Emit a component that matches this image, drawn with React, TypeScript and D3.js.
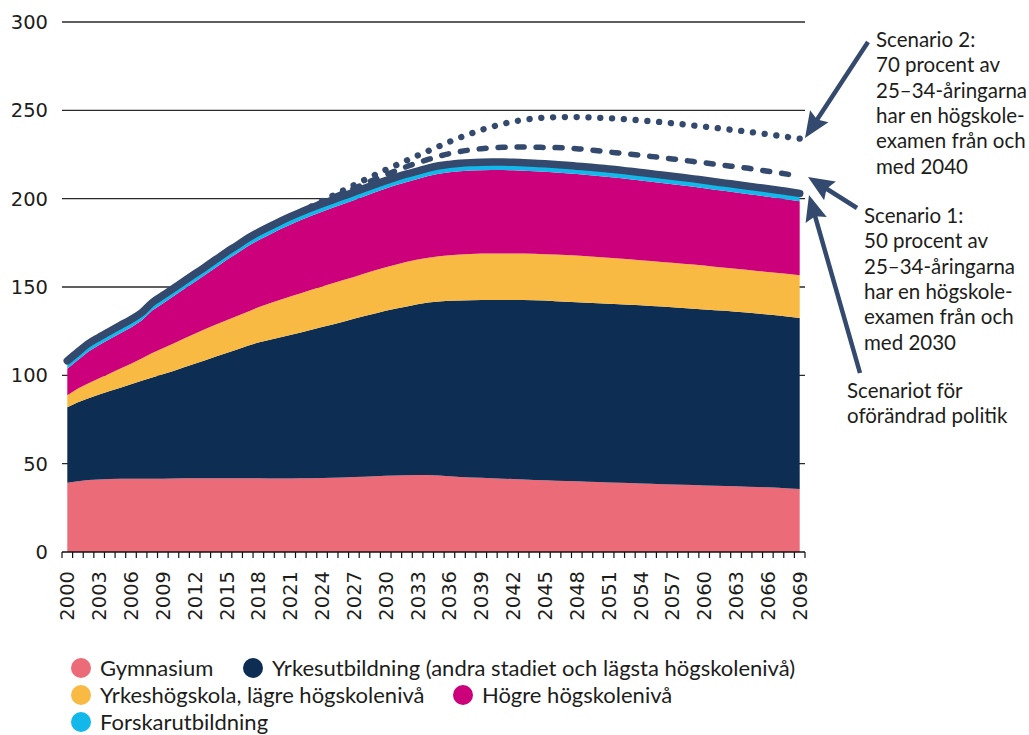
import React from "react";
import * as d3 from "d3";

const years: number[] = d3.range(2000, 2070);
const xTickLabels = ["2000","2003","2006","2009","2012","2015","2018","2021","2024","2027","2030","2033","2036","2039","2042","2045","2048","2051","2054","2057","2060","2063","2066","2069"];
const yTicks = [0, 50, 100, 150, 200, 250, 300];

// Cumulative tops of each stacked band
const gymnasiumTop = [
  39.2, 40.0, 40.7, 41.1, 41.3, 41.4, 41.5, 41.5, 41.5, 41.5,
  41.6, 41.7, 41.7, 41.8, 41.8, 41.8, 41.8, 41.8, 41.7, 41.6,
  41.6, 41.6, 41.7, 41.8, 41.9, 42.0, 42.2, 42.4, 42.6, 42.9,
  43.1, 43.3, 43.5, 43.6, 43.6, 43.3, 42.9, 42.5, 42.2, 42.0,
  41.7, 41.5, 41.3, 41.0, 40.8, 40.6, 40.4, 40.2, 40.0, 39.8,
  39.6, 39.4, 39.2, 39.0, 38.8, 38.6, 38.4, 38.2, 38.1, 37.9,
  37.7, 37.5, 37.4, 37.2, 37.0, 36.8, 36.6, 36.3, 36.0, 35.7,
];
const yrkesutbildningTop = [
  82.0, 84.8, 87.0, 89.2, 91.2, 93.0, 95.0, 97.0, 98.8, 100.6,
  102.4, 104.6, 106.6, 108.6, 110.6, 112.6, 114.6, 116.8, 118.6, 120.0,
  121.4, 122.8, 124.3, 125.8, 127.3, 128.8, 130.3, 132.0, 133.6, 135.0,
  136.5, 137.8, 139.0, 140.2, 141.2, 141.8, 142.2, 142.4, 142.5, 142.6,
  142.7, 142.7, 142.7, 142.6, 142.5, 142.3, 142.0, 141.7, 141.4, 141.1,
  140.8, 140.5, 140.2, 139.9, 139.6, 139.2, 138.9, 138.5, 138.1, 137.7,
  137.3, 136.9, 136.5, 136.0, 135.5, 135.0, 134.4, 133.8, 133.1, 132.5,
];
const yrkeshogskolaTop = [
  88.7, 92.5, 95.5, 98.3, 101.0, 103.8, 106.6, 109.5, 112.6, 115.4,
  118.0, 120.8, 123.5, 126.2, 128.8, 131.2, 133.6, 136.0, 138.6, 140.6,
  142.6, 144.6, 146.5, 148.4, 150.3, 152.1, 153.9, 155.7, 157.6, 159.5,
  161.2, 162.8, 164.3, 165.5, 166.6, 167.4, 168.0, 168.4, 168.7, 168.9,
  169.0, 169.0, 169.0, 168.9, 168.8, 168.6, 168.4, 168.1, 167.8, 167.4,
  167.0, 166.6, 166.2, 165.7, 165.2, 164.7, 164.2, 163.7, 163.2, 162.7,
  162.1, 161.5, 160.9, 160.3, 159.7, 159.1, 158.5, 157.9, 157.3, 156.7,
];
const hogreTop = [
  103.7, 108.7, 113.5, 117.1, 120.5, 123.8, 127.1, 131.0, 136.7, 140.7,
  144.7, 148.8, 152.9, 156.9, 161.1, 165.3, 169.1, 173.1, 176.5, 179.5,
  182.5, 185.3, 187.9, 190.3, 192.6, 194.8, 197.0, 199.1, 201.4, 203.6,
  205.7, 207.7, 209.5, 211.1, 212.8, 214.1, 214.9, 215.5, 215.9, 216.1,
  216.2, 216.2, 216.1, 215.8, 215.5, 215.2, 214.8, 214.4, 213.9, 213.4,
  212.9, 212.3, 211.7, 211.0, 210.3, 209.6, 208.9, 208.2, 207.5, 206.7,
  205.9, 205.1, 204.3, 203.5, 202.7, 201.9, 201.1, 200.3, 199.4, 198.5,
];
// Total (Scenariot för oförändrad politik) = top of Forskarutbildning band
const totalOforandrad = [
  108.2, 113.2, 118.0, 121.6, 125.0, 128.3, 131.6, 135.5, 141.2, 145.2,
  149.2, 153.3, 157.4, 161.4, 165.6, 169.8, 173.6, 177.6, 181.0, 184.0,
  187.0, 189.8, 192.4, 194.8, 197.1, 199.3, 201.5, 203.6, 205.9, 208.1,
  210.2, 212.2, 214.0, 215.6, 217.3, 218.6, 219.4, 220.0, 220.4, 220.6,
  220.7, 220.7, 220.6, 220.3, 220.0, 219.7, 219.3, 218.9, 218.4, 217.9,
  217.4, 216.8, 216.2, 215.5, 214.8, 214.1, 213.4, 212.7, 212.0, 211.2,
  210.4, 209.6, 208.8, 208.0, 207.2, 206.4, 205.6, 204.8, 203.9, 203.0,
];

const scenarioYears: number[] = d3.range(2022, 2070);
const scenario1 = [
  192.5, 195.3, 198.0, 200.6, 203.2, 205.8, 208.4, 211.0,
  213.5, 215.9, 218.2, 220.3, 222.2, 224.0, 225.5, 226.7, 227.6, 228.3,
  228.8, 229.1, 229.2, 229.2, 229.1, 229.0, 228.9, 228.7, 228.3, 227.7,
  227.1, 226.4, 225.8, 225.2, 224.6, 223.9, 223.2, 222.5, 221.8, 221.0,
  220.3, 219.5, 218.8, 218.0, 217.3, 216.4, 215.5, 214.6, 213.7, 212.8,
];
const scenario2 = [
  192.6, 195.6, 198.6, 201.6, 204.6, 207.6, 210.6, 213.5,
  216.3, 219.0, 221.7, 224.4, 227.0, 229.6, 232.2, 234.6, 236.8, 238.9,
  240.7, 242.3, 243.6, 244.6, 245.4, 245.9, 246.1, 246.2, 246.2, 246.0,
  245.8, 245.5, 245.2, 244.8, 244.3, 243.8, 243.3, 242.7, 242.1, 241.4,
  240.8, 240.1, 239.4, 238.7, 238.0, 237.2, 236.4, 235.6, 234.8, 234.0,
];

const bandNames = ["Gymnasium", "Yrkesutbildning (andra stadiet och lägsta högskolenivå)", "Yrkeshögskola, lägre högskolenivå", "Högre högskolenivå", "Forskarutbildning"];
const bandColors = ["#ec6b78", "#0e2d52", "#f8ba43", "#cc007b", "#12b8ea"];
const lineColor = "#34496e";
const textColor = "#1d1d1b";

export default function App() {
  const W = 1029, H = 735;
  const x = d3.scaleBand<number>().domain(years).range([62, 805]).paddingInner(0).paddingOuter(0);
  const cx = (yr: number) => (x(yr) as number) + x.bandwidth() / 2;
  const y = d3.scaleLinear().domain([0, 300]).range([552, 22]);

  const bounds = [years.map(() => 0), gymnasiumTop, yrkesutbildningTop, yrkeshogskolaTop, hogreTop, totalOforandrad];
  const area = d3.area<number>()
    .x((d) => cx(d))
    .curve(d3.curveLinear);

  const bandPaths = bandNames.map((_, i) => {
    const lo = bounds[i], hi = bounds[i + 1];
    return area.y0((_d, j) => y(lo[j])).y1((_d, j) => y(hi[j]))(years) as string;
  });

  const line = (ys: number[], vals: number[]) =>
    d3.line<number>().x((d) => cx(d)).y((_d, j) => y(vals[j])).curve(d3.curveMonotoneX)(ys) as string;

  const arrow = (x1: number, y1: number, x2: number, y2: number, key: string) => {
    const dx = x2 - x1, dy = y2 - y1;
    const L = Math.hypot(dx, dy);
    const ux = dx / L, uy = dy / L;
    const hl = 26, hw = 11;
    const bx = x2 - ux * hl, by = y2 - uy * hl;
    const px = -uy, py = ux;
    const pts = [[x2, y2], [bx + px * hw, by + py * hw], [bx + ux * 4, by + uy * 4], [bx - px * hw, by - py * hw]];
    return (
      <g key={key}>
        <line x1={x1} y1={y1} x2={bx + ux * 5} y2={by + uy * 5} stroke={lineColor} strokeWidth={4.5} />
        <polygon points={pts.map((p) => p.join(",")).join(" ")} fill={lineColor} />
      </g>
    );
  };

  const annoFont = "Lato, 'Open Sans', sans-serif";
  const anno = (lines: string[], x0: number, y0: number, key: string) => (
    <text key={key} x={x0} y={y0} fontFamily={annoFont} fontSize={20.5} fill={textColor}>
      {lines.map((t, i) => (
        <tspan key={i} x={x0} dy={i === 0 ? 0 : 25.3}>{t}</tspan>
      ))}
    </text>
  );

  const legendItems = [
    { i: 0, cx: 81, cy: 668 },
    { i: 1, cx: 253, cy: 668 },
    { i: 2, cx: 81, cy: 695 },
    { i: 3, cx: 463, cy: 695 },
    { i: 4, cx: 81, cy: 722 },
  ];

  const boundaries = d3.range(years.length + 1).map((k) => 62 + k * x.bandwidth());

  return (
    <svg width={W} height={H} style={{ position: "absolute", left: 0, top: 0, background: "#fff" }}>
      {yTicks.filter((t) => t > 0).map((t) => (
        <line key={t} x1={62} x2={805} y1={y(t)} y2={y(t)} stroke="#2a2a2a" strokeWidth={1.4} />
      ))}
      {bandPaths.map((p, i) => (
        <path key={i} d={p} fill={bandColors[i]} />
      ))}
      <path d={line(scenarioYears, scenario1)} fill="none" stroke={lineColor} strokeWidth={5.5} strokeLinecap="round" strokeDasharray="7 12" />
      <path d={line(scenarioYears, scenario2)} fill="none" stroke={lineColor} strokeWidth={6.3} strokeLinecap="round" strokeDasharray="0.1 11.7" />
      <path d={line(years, totalOforandrad)} fill="none" stroke={lineColor} strokeWidth={7.5} strokeLinecap="round" strokeLinejoin="round" />
      <line x1={62} x2={805} y1={552} y2={552} stroke="#111" strokeWidth={1.5} />
      {boundaries.map((bx, k) => (
        <line key={k} x1={bx} x2={bx} y1={552} y2={558} stroke="#111" strokeWidth={1.2} />
      ))}
      {xTickLabels.map((lab) => {
        const px = cx(+lab);
        return (
          <text key={lab} transform={`translate(${px},${571}) rotate(-90)`} textAnchor="end" dy="0.36em"
            fontFamily="'DejaVu Sans', Verdana, sans-serif" fontSize={19.5} fill={textColor}>{lab}</text>
        );
      })}
      {yTicks.map((t) => (
        <text key={t} x={48} y={y(t)} dy="0.36em" textAnchor="end" fontFamily="'DejaVu Sans', Verdana, sans-serif" fontSize={19.5} fill={textColor}>{t}</text>
      ))}
      {arrow(868, 42, 805, 138, "a2")}
      {arrow(857, 208, 808, 177, "a1")}
      {arrow(860, 373, 809, 195, "a0")}
      {anno(["Scenario 2:", "70 procent av", "25–34-åringarna", "har en högskole-", "examen från och", "med 2040"], 876, 47, "s2")}
      {anno(["Scenario 1:", "50 procent av", "25–34-åringarna", "har en högskole-", "examen från och", "med 2030"], 864, 223, "s1")}
      {anno(["Scenariot för", "oförändrad politik"], 847, 398, "s0")}
      {legendItems.map(({ i, cx: lx, cy }) => (
        <g key={i}>
          <circle cx={lx} cy={cy} r={10} fill={bandColors[i]} />
          <text x={lx + 19} y={cy + 8} fontFamily={annoFont} fontSize={22} fill={textColor}>{bandNames[i]}</text>
        </g>
      ))}
    </svg>
  );
}
